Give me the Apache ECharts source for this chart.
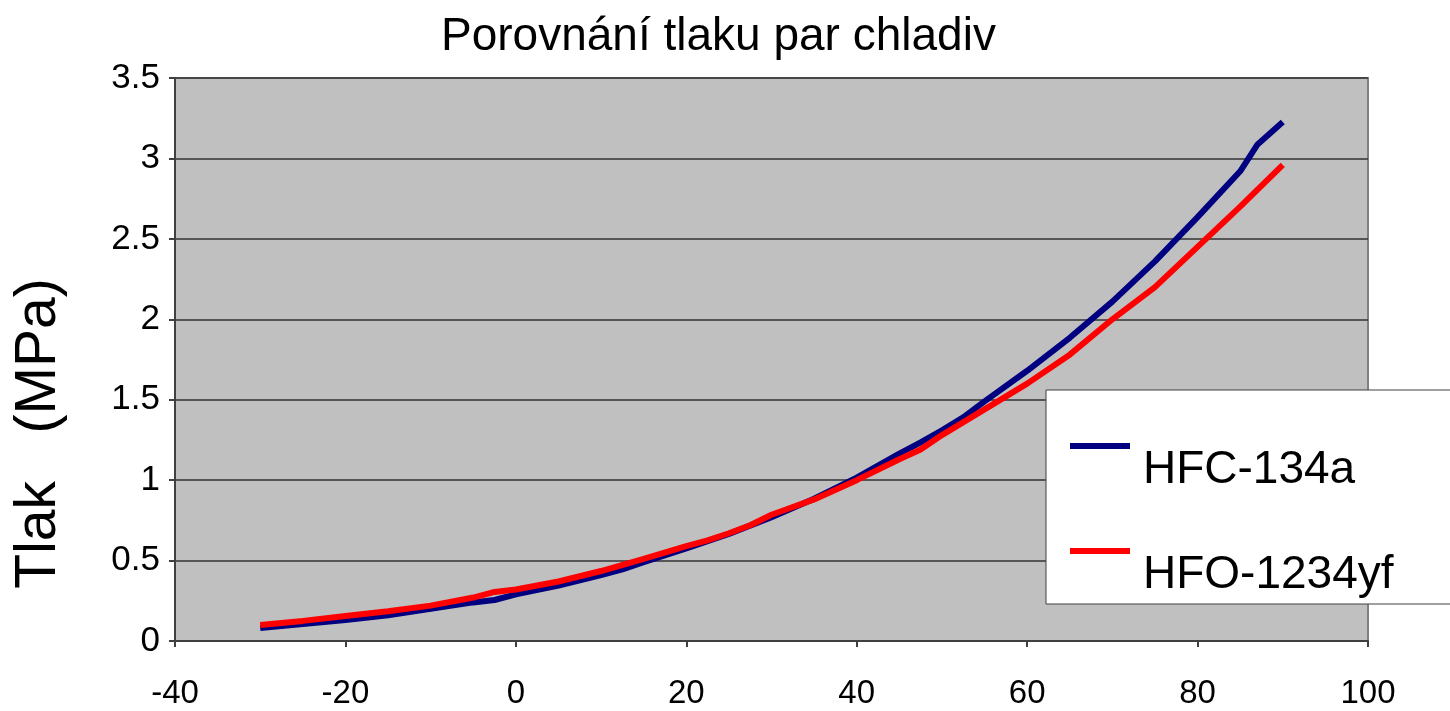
<!DOCTYPE html>
<html>
<head>
<meta charset="utf-8">
<title>Porovnání tlaku par chladiv</title>
<script src="https://cdn.jsdelivr.net/npm/echarts@6/dist/echarts.min.js"></script>
<style>
  html, body { margin: 0; padding: 0; background: #fff; }
  #mainChart { width: 1450px; height: 711px; }
</style>
</head>
<body>
<div id="mainChart"></div>
<script type="text/javascript">
// teplota (°C) a tlak (MPa)
var seriesNames = ['HFC-134a', 'HFO-1234yf'];

var tempR134a = [-30, -25, -20, -15, -10, -5, -2.5, 0, 5, 10, 12.5, 15, 20, 25, 30, 35, 40, 45, 47.5, 50, 52.5, 55, 60, 65, 70, 75, 80, 85, 87, 90];
var pressR134a = [0.08, 0.105, 0.13, 0.16, 0.20, 0.24, 0.255, 0.29, 0.345, 0.41, 0.445, 0.49, 0.575, 0.665, 0.77, 0.885, 1.015, 1.165, 1.235, 1.31, 1.39, 1.49, 1.68, 1.885, 2.11, 2.36, 2.635, 2.92, 3.085, 3.226];

var tempR1234yf = [-30, -25, -20, -15, -10, -5, -2.5, 0, 5, 10, 15, 20, 22.5, 25, 27.5, 30, 35, 40, 45, 47.5, 50, 55, 60, 65, 70, 75, 80, 85, 90];
var pressR1234yf = [0.10, 0.125, 0.155, 0.185, 0.22, 0.27, 0.305, 0.32, 0.37, 0.435, 0.51, 0.59, 0.625, 0.67, 0.72, 0.785, 0.88, 1.0, 1.13, 1.19, 1.28, 1.44, 1.60, 1.78, 2.0, 2.2, 2.45, 2.70, 2.96];

function pairs(xs, ys) {
    var out = [];
    for (var i = 0; i < xs.length; i++) {
        out.push([xs[i], ys[i]]);
    }
    return out;
}

var myChart = echarts.init(document.getElementById('mainChart'));
var font = 'Liberation Sans, Arial, sans-serif';

var options = {
    animation: false,
    textStyle: { fontFamily: font },
    title: {
        text: 'Porovnání tlaku par chladiv',
        left: 436,
        top: 9,
        textStyle: { fontSize: 46, fontWeight: 'normal', color: '#000', fontFamily: font }
    },
    legend: {
        orient: 'vertical',
        left: 1046,
        top: 390,
        padding: [53, 200, 6, 24],
        itemGap: 55,
        itemWidth: 60,
        itemHeight: 6,
        icon: 'rect',
        backgroundColor: '#fff',
        borderColor: '#404040',
        borderWidth: 1,
        borderRadius: 0,
        data: seriesNames,
        // text sits lower than the line sample, like in the original
        formatter: '{t|{name}}',
        textStyle: {
            fontFamily: font,
            rich: {
                t: { fontSize: 46, color: '#000', padding: [48, 0, 0, 8], fontFamily: font }
            }
        }
    },
    grid: {
        left: 175,
        right: 82,
        top: 78,
        bottom: 70,
        show: true,
        backgroundColor: '#c0c0c0',
        borderColor: '#808080',
        borderWidth: 2
    },
    xAxis: {
        type: 'value',
        min: -40,
        max: 100,
        interval: 20,
        axisLine: { onZero: false, lineStyle: { color: '#404040', width: 2 } },
        axisTick: { length: 6, lineStyle: { color: '#404040', width: 2 } },
        splitLine: { show: false },
        axisLabel: { fontSize: 33, color: '#000', margin: 36, fontFamily: font }
    },
    yAxis: {
        type: 'value',
        min: 0,
        max: 3.5,
        interval: 0.5,
        name: 'Tlak   (MPa)',
        nameLocation: 'middle',
        nameGap: 107,
        nameTextStyle: { fontSize: 57, color: '#000', padding: [0, 148, 0, 0], fontFamily: font },
        axisLine: { show: true, onZero: false, lineStyle: { color: '#404040', width: 2 } },
        axisTick: { show: true, length: 6, lineStyle: { color: '#404040', width: 2 } },
        splitLine: { lineStyle: { color: '#333', width: 1.5 } },
        axisLabel: { fontSize: 35, color: '#000', margin: 15, fontFamily: font }
    },
    series: [
        {
            name: seriesNames[0],
            type: 'line',
            data: pairs(tempR134a, pressR134a),
            showSymbol: false,
            color: '#000080',
            lineStyle: { width: 6, color: '#000080' }
        },
        {
            name: seriesNames[1],
            type: 'line',
            data: pairs(tempR1234yf, pressR1234yf),
            showSymbol: false,
            color: '#ff0000',
            lineStyle: { width: 6, color: '#ff0000' }
        }
    ]
};

myChart.setOption(options);
</script>
</body>
</html>
